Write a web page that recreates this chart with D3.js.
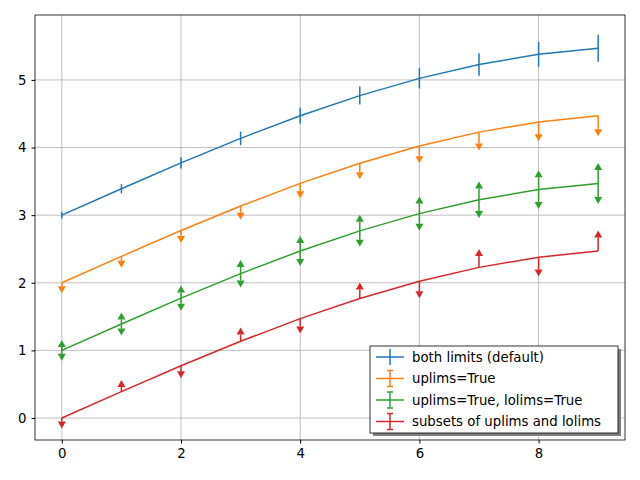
<!DOCTYPE html>
<html><head><meta charset="utf-8">
<script src="https://cdn.jsdelivr.net/npm/d3@7"></script>
<style>body{margin:0;background:#fff}text{font-family:"DejaVu Sans";font-size:13.3px;fill:#000}</style>
</head><body><svg id="c" width="640" height="480"></svg>
<script>
const xs=[0,1,2,3,4,5,6,7,8,9];
const base=[0,0.391,0.773,1.135,1.470,1.768,2.023,2.228,2.378,2.469];
const yerr=[0.05,0.067,0.083,0.1,0.117,0.133,0.15,0.167,0.183,0.2];
const offsets=[3,2,1,0];
const colors=["#1f77b4","#ff7f0e","#2ca02c","#d62728"];
const labels=["both limits (default)","uplims=True","uplims=True, lolims=True","subsets of uplims and lolims"];
const uplims=[[0,0,0,0,0,0,0,0,0,0],[1,1,1,1,1,1,1,1,1,1],[1,1,1,1,1,1,1,1,1,1],[1,0,1,0,1,0,1,0,1,0]];
const lolims=[[0,0,0,0,0,0,0,0,0,0],[0,0,0,0,0,0,0,0,0,0],[1,1,1,1,1,1,1,1,1,1],[0,1,0,1,0,1,0,1,0,1]];
const xticks=[0,2,4,6,8], yticks=[0,1,2,3,4,5];

const svg=d3.select("#c");
const L=35,R=625,T=15,B=440;
const x=d3.scaleLinear().domain([-0.45,9.45]).range([L,R]);
const y=d3.scaleLinear().domain([-0.325,5.96]).range([B,T]);
const g=svg.append("g");
xticks.forEach(t=>g.append("line").attr("x1",x(t)).attr("x2",x(t)).attr("y1",T).attr("y2",B).attr("stroke","#b0b0b0").attr("stroke-width",0.8));
yticks.forEach(t=>g.append("line").attr("y1",y(t)).attr("y2",y(t)).attr("x1",L).attr("x2",R).attr("stroke","#b0b0b0").attr("stroke-width",0.8));
svg.append("g").attr("transform",`translate(0,${B})`).call(d3.axisBottom(x).tickValues(xticks).tickFormat(d3.format("d")).tickSize(3.5).tickPadding(5)).call(a=>{a.select(".domain").remove();a.selectAll("text").style("font-size","13.3px").style("font-family","DejaVu Sans");});
svg.append("g").attr("transform",`translate(${L},0)`).call(d3.axisLeft(y).tickValues(yticks).tickFormat(d3.format("d")).tickSize(3.5).tickPadding(5)).call(a=>{a.select(".domain").remove();a.selectAll("text").style("font-size","13.3px").style("font-family","DejaVu Sans");});
const line=d3.line().x(d=>x(d[0])).y(d=>y(d[1]));
function tri(px,py,dir,c){
  const h=7,w=4;
  svg.append("path").attr("d",`M${px-w},${py} L${px+w},${py} L${px},${py-dir*h} Z`).attr("fill",c);
}
offsets.forEach((o,s)=>{
  const c=colors[s];
  const pts=xs.map((xv,i)=>[xv,base[i]+o]);
  svg.append("path").attr("d",line(pts)).attr("fill","none").attr("stroke",c).attr("stroke-width",1.5);
  xs.forEach((xv,i)=>{
    const v=base[i]+o,e=yerr[i],up=uplims[s][i],lo=lolims[s][i];
    let y0=v-e,y1=v+e;
    if(up&&!lo){y1=v;} if(lo&&!up){y0=v;}
    svg.append("line").attr("x1",x(xv)).attr("x2",x(xv)).attr("y1",y(y0)).attr("y2",y(y1)).attr("stroke",c).attr("stroke-width",1.5);
    if(up) tri(x(xv),y(v-e),-1,c);
    if(lo) tri(x(xv),y(v+e),1,c);
  });
});
svg.append("rect").attr("x",L).attr("y",T).attr("width",R-L).attr("height",B-T).attr("fill","none").attr("stroke","#000").attr("stroke-width",0.8);
const lx=370,ly=346,lw=248,lh=87;
svg.append("rect").attr("x",lx+3).attr("y",ly+3).attr("width",lw).attr("height",lh).attr("fill","#808080");
svg.append("rect").attr("x",lx).attr("y",ly).attr("width",lw).attr("height",lh).attr("fill","#fff").attr("stroke","#000").attr("stroke-width",0.8);
labels.forEach((t,i)=>{
  const yy=ly+11+i*21.5,c=colors[i];
  svg.append("line").attr("x1",lx+6).attr("x2",lx+34).attr("y1",yy).attr("y2",yy).attr("stroke",c).attr("stroke-width",1.5);
  svg.append("line").attr("x1",lx+20).attr("x2",lx+20).attr("y1",yy-8).attr("y2",yy+8).attr("stroke",c).attr("stroke-width",1.5);
  if(i>0){[yy-8,yy+8].forEach(q=>svg.append("line").attr("x1",lx+17).attr("x2",lx+23).attr("y1",q).attr("y2",q).attr("stroke",c).attr("stroke-width",1.5));}
  svg.append("text").attr("x",lx+42).attr("y",yy+4.5).text(t);
});
</script></body></html>
